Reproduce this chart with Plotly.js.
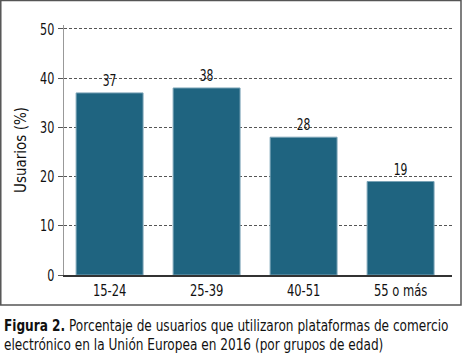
<!DOCTYPE html>
<html><head><meta charset="utf-8">
<script src="https://cdn.plot.ly/plotly-3.0.1.min.js"></script>
<style>body{margin:0;padding:0;background:#fff}</style>
</head><body>
<div id="chart" style="width:462px;height:362px"></div>
<script>
const categories = ["15-24", "25-39", "40-51", "55 o más"];
const values = [37, 38, 28, 19];
const yTicks = [0, 10, 20, 30, 40, 50];

const FONT = '"Liberation Sans Narrow", "DejaVu Sans Condensed", "DejaVu Sans", sans-serif';

const trace = {
  type: 'bar',
  x: categories,
  y: values,
  text: values.map(String),
  textposition: 'outside',
  cliponaxis: false,
  textfont: {family: FONT, size: 15, color: '#111'},
  marker: {color: '#1f6480', line: {color: '#7aa3b6', width: 1}},
  hoverinfo: 'none'
};

const layout = {
  width: 462, height: 362,
  margin: {l: 64, r: 10, t: 25, b: 87},
  paper_bgcolor: '#fff', plot_bgcolor: '#fff',
  font: {family: FONT, size: 15, color: '#111'},
  bargap: 0.31,
  showlegend: false,
  xaxis: {
    type: 'category',
    range: [-0.47, 3.53],
    showgrid: false,
    showline: true, linecolor: '#333', linewidth: 1.5,
    ticks: '', tickfont: {family: FONT, size: 16, color: '#111'},
    fixedrange: true
  },
  yaxis: {
    range: [0, 50.8],
    tickvals: yTicks,
    ticktext: yTicks.map(String),
    showgrid: true, gridcolor: '#555', griddash: '3px,2px', gridwidth: 1,
    zeroline: false,
    showline: true, linecolor: '#999', linewidth: 1.5,
    ticks: 'outside', ticklen: 5, tickcolor: '#555',
    tickfont: {family: FONT, size: 16, color: '#111'},
    title: {text: 'Usuarios (%)', font: {family: FONT, size: 15, color: '#111'}, standoff: 5},
    fixedrange: true
  },
  shapes: [{
    type: 'rect', xref: 'paper', yref: 'paper',
    x0: -64/388 + 0.002, x1: (461-64)/388, y0: (275-305)/250, y1: 275/250 - 0.002,
    line: {color: '#555', width: 1.5}, fillcolor: 'rgba(0,0,0,0)', layer: 'below'
  }],
  annotations: [{
    xref: 'paper', yref: 'paper',
    x: (2-64)/388, y: (275-315)/250,
    xanchor: 'left', yanchor: 'top', align: 'left', showarrow: false,
    text: '<b>Figura 2.</b> Porcentaje de usuarios que utilizaron plataformas de comercio<br>electrónico en la Unión Europea en 2016 (por grupos de edad)',
    font: {family: FONT, size: 15, color: '#111'}
  }]
};

function narrow(el, s, pivot) {
  const bb = el.getBBox();
  let px = bb.x;
  if (pivot === 'middle') px = bb.x + bb.width / 2;
  if (pivot === 'end') px = bb.x + bb.width;
  const prev = el.getAttribute('transform') || '';
  el.setAttribute('transform', prev + ' translate(' + px + ',0) scale(' + s + ',1) translate(' + (-px) + ',0)');
}

Plotly.newPlot('chart', [trace], layout, {displayModeBar: false, staticPlot: true}).then(function (gd) {
  // Narrow texts horizontally to mimic the condensed typeface of the reference
  const t = gd.querySelector('.annotation-text');
  if (t) {
    const bb = t.getBBox();
    narrow(t, Math.min(1, 445 / bb.width), 'start');
  }
  gd.querySelectorAll('.ytick text').forEach(function (e) { narrow(e, 0.78, 'end'); });
  gd.querySelectorAll('.xtick text').forEach(function (e) { narrow(e, 0.8, 'middle'); });
  gd.querySelectorAll('.bars .textpoint text, .bars text').forEach(function (e) { narrow(e, 0.8, 'middle'); });
});
</script>
</body></html>
